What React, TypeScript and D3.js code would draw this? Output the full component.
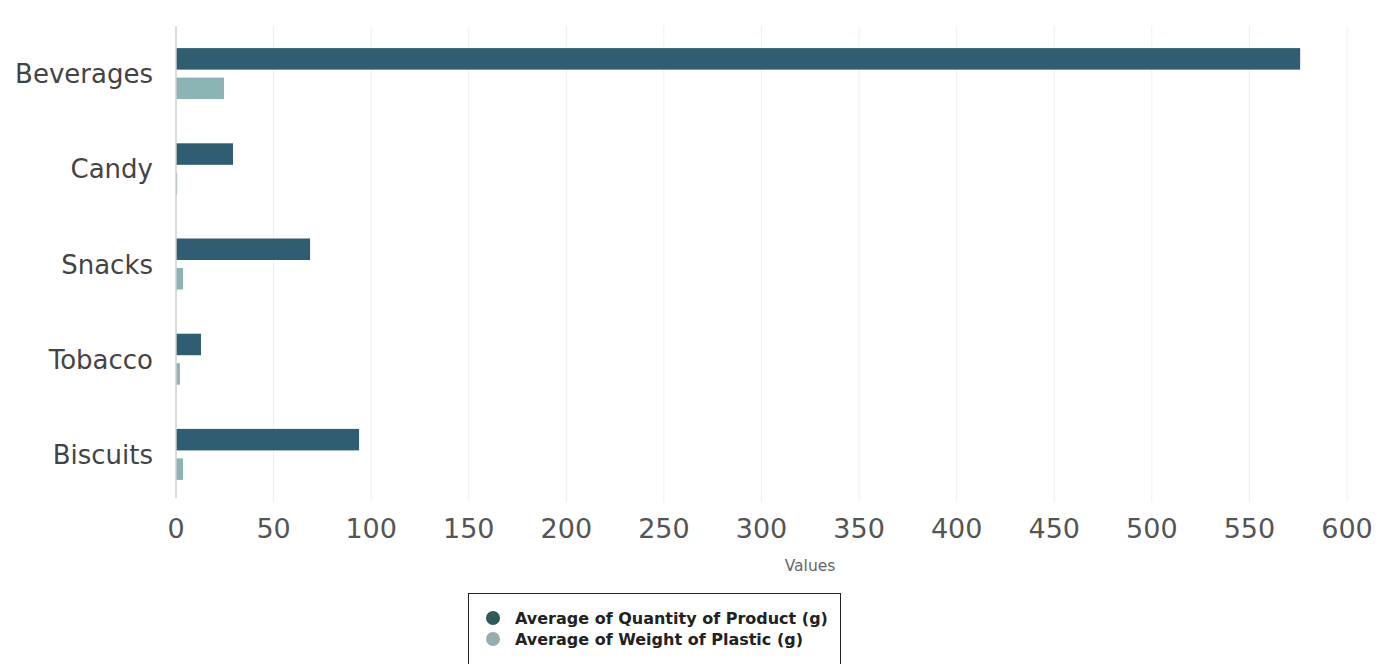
import React from "react";
import * as d3 from "d3";

const categories = ["Beverages", "Candy", "Snacks", "Tobacco", "Biscuits"];
const seriesNames = ["Average of Quantity of Product (g)", "Average of Weight of Plastic (g)"];
const quantityValues = [576, 29.2, 68.7, 12.8, 93.8];
const plasticValues = [24.6, 0.6, 3.6, 2, 3.6];
const xTicks = [0, 50, 100, 150, 200, 250, 300, 350, 400, 450, 500, 550, 600];
const axisTitle = "Values";

const colors = ["#2f5d71", "#8db4b4"];
const legendColors = ["#2f5a58", "#97adaf"];

const W = 1390;
const H = 664;

export default function App() {
  const x = d3.scaleLinear().domain([0, 600]).range([176, 1347]);
  const y = d3.scaleBand<string>().domain(categories).range([26, 502]).paddingInner(0).paddingOuter(0);
  const bw = y.bandwidth();
  const inner = d3
    .scaleBand<number>()
    .domain([0, 1])
    .range([bw / 2 - 25.5, bw / 2 + 25.5])
    .paddingInner(0.27)
    .paddingOuter(0);
  const series = [quantityValues, plasticValues];
  const font = "'DejaVu Sans', Verdana, sans-serif";

  return (
    <svg
      width={W}
      height={H}
      style={{ position: "fixed", left: 0, top: 0, background: "#fff" }}
      fontFamily={font}
    >
      <rect x={0} y={0} width={W} height={H} fill="#fff" />
      {/* gridlines */}
      {xTicks.slice(1).map((t) => (
        <line key={"g" + t} x1={x(t)} x2={x(t)} y1={26} y2={502} stroke="#efefef" strokeWidth={1} />
      ))}
      {/* bars */}
      {series.map((vals, si) =>
        categories.map((c, ci) => (
          <rect
            key={si + "-" + c}
            x={x(0)}
            y={(y(c) as number) + (inner(si) as number)}
            width={Math.max(0, x(vals[ci]) - x(0))}
            height={inner.bandwidth()}
            fill={colors[si]}
          />
        ))
      )}
      {/* y axis line */}
      <line x1={x(0)} x2={x(0)} y1={26} y2={498} stroke="#cfcfcf" strokeWidth={1.5} />
      {/* category labels */}
      {categories.map((c) => (
        <text
          key={"c" + c}
          x={153}
          y={(y(c) as number) + bw / 2 + 9.5}
          textAnchor="end"
          fontSize={26}
          fill="#444"
        >
          {c}
        </text>
      ))}
      {/* x tick labels */}
      {xTicks.map((t) => (
        <text key={"t" + t} x={x(t)} y={538} textAnchor="middle" fontSize={27} fill="#555">
          {String(t)}
        </text>
      ))}
      <text x={810} y={571} textAnchor="middle" fontSize={15.5} fill="#666">
        {axisTitle}
      </text>
      {/* legend */}
      <rect x={468.5} y={593.5} width={372} height={90} fill="#fff" stroke="#222" strokeWidth={1} />
      {seriesNames.map((n, i) => (
        <g key={"l" + i}>
          <circle cx={493} cy={618 + i * 21} r={7} fill={legendColors[i]} />
          <text x={515} y={624 + i * 20.5} fontSize={16} fontWeight="bold" fill="#222">
            {n}
          </text>
        </g>
      ))}
    </svg>
  );
}
